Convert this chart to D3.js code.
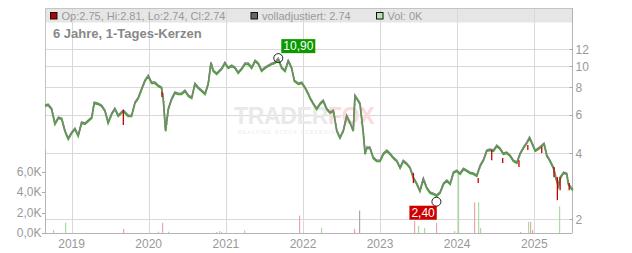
<!DOCTYPE html>
<html>
<head>
<meta charset="utf-8">
<script src="https://cdn.jsdelivr.net/npm/d3@7"></script>
<style>
body{margin:0;background:#fff;}
svg{display:block;font-family:"Liberation Sans",Arial,sans-serif;}
</style>
</head>
<body>
<div id="chart"></div>
<script>

const priceDates=[
    "2018-08-28","2018-09-12","2018-09-28","2018-10-14","2018-10-30","2018-11-15","2018-11-30","2018-12-16",
    "2019-01-01","2019-01-17","2019-02-01","2019-02-17","2019-03-05","2019-03-21","2019-04-06","2019-04-18",
    "2019-05-07","2019-05-23","2019-06-08","2019-06-23","2019-07-10","2019-07-25","2019-08-10","2019-09-03",
    "2019-09-26","2019-10-12","2019-10-28","2019-11-13","2019-11-29","2019-12-14","2019-12-30",
    "2020-01-15","2020-01-31","2020-02-15","2020-03-02","2020-03-10","2020-03-21","2020-04-03","2020-04-19",
    "2020-05-04","2020-05-20","2020-06-05","2020-06-21","2020-07-07","2020-07-23","2020-08-07","2020-08-23",
    "2020-09-08","2020-09-24","2020-10-09","2020-10-22","2020-11-02","2020-11-18","2020-12-12","2020-12-27",
    "2021-01-12","2021-01-28","2021-02-13","2021-02-28","2021-03-17","2021-04-01","2021-04-17","2021-05-03",
    "2021-05-19","2021-06-04","2021-06-19","2021-07-05","2021-07-21","2021-08-06","2021-08-22","2021-09-06",
    "2021-09-22","2021-10-08","2021-10-23","2021-11-08","2021-11-21","2021-12-10","2021-12-26",
    "2022-01-11","2022-01-26","2022-02-03","2022-02-19","2022-03-07","2022-03-23","2022-04-07","2022-04-23",
    "2022-05-09","2022-05-25","2022-06-10","2022-06-25","2022-07-11","2022-07-27","2022-08-12","2022-08-27",
    "2022-09-04","2022-09-20","2022-09-28","2022-10-14","2022-10-22","2022-10-30","2022-11-14","2022-11-30",
    "2022-12-16","2023-01-01","2023-01-17","2023-02-02","2023-02-17","2023-03-05","2023-03-21","2023-04-06",
    "2023-04-21","2023-05-07","2023-05-23","2023-06-08","2023-06-24","2023-07-09","2023-07-25","2023-08-10",
    "2023-08-26","2023-09-10","2023-09-26","2023-10-12","2023-10-28","2023-11-13","2023-11-29","2023-12-14",
    "2023-12-30","2024-01-15","2024-01-31","2024-02-16","2024-03-02","2024-03-18","2024-04-03","2024-04-19",
    "2024-05-05","2024-05-20","2024-06-05","2024-06-21","2024-07-07","2024-07-23","2024-08-07","2024-08-23",
    "2024-09-08","2024-09-24","2024-10-10","2024-10-25","2024-11-10","2024-11-26","2024-12-09","2024-12-20",
    "2025-01-05","2025-01-20","2025-02-05","2025-02-16","2025-03-01","2025-03-16","2025-04-01","2025-04-14",
    "2025-04-25","2025-05-03","2025-05-19","2025-06-03","2025-06-11","2025-06-27","2025-07-03"
];
const priceValues=[
    6.65,6.72,6.44,5.50,5.86,5.80,5.11,4.70,
    5.00,5.22,4.85,5.56,5.50,5.68,5.86,6.86,
    6.79,6.65,6.31,5.56,6.11,6.44,5.98,6.31,
    5.98,5.98,6.86,7.23,7.95,8.65,9.12,
    8.47,8.47,8.21,8.04,7.16,5.11,6.44,7.16,
    7.63,7.54,7.54,7.79,7.39,7.23,8.38,8.04,
    7.79,7.54,8.38,10.46,9.61,9.32,9.82,10.46,
    9.92,10.13,9.92,9.41,9.82,10.35,10.35,9.92,
    10.68,10.35,9.61,9.92,10.13,10.35,10.46,10.90,
    9.92,9.61,10.68,9.92,8.65,8.38,8.47,
    8.04,7.54,7.23,6.79,6.44,6.79,7.01,6.44,
    6.18,6.31,5.11,4.75,5.11,5.98,5.56,5.11,
    7.39,7.01,6.79,4.95,4.01,4.27,4.27,3.84,
    3.72,3.72,4.01,4.14,4.01,3.84,3.72,3.46,
    3.72,3.61,3.46,3.11,2.92,2.71,3.08,2.80,
    2.66,2.63,2.58,2.66,2.92,3.02,2.92,3.28,
    3.35,3.25,3.42,3.35,3.28,3.25,3.18,3.53,
    3.76,4.14,4.18,4.14,4.36,4.23,4.01,4.05,
    3.93,3.72,3.65,4.01,4.27,4.50,4.75,4.50,
    4.14,4.23,4.36,4.45,3.93,3.72,3.46,3.08,
    2.86,3.11,3.28,3.25,2.92,2.77,2.74
];

// red (falling) candles that stand out in the picture
const redDates=["2019-09-03","2020-03-04","2023-06-08","2024-04-10","2024-06-13","2024-08-04","2024-10-20",
    "2024-12-01","2025-02-05","2025-04-04","2025-04-20","2025-05-03","2025-06-15"];
const redHigh=[6.31,7.63,3.25,3.08,4.14,3.80,3.72,4.36,4.27,3.46,3.11,3.11,2.92];
const redLow=[5.39,7.23,2.92,2.92,3.72,3.61,3.46,4.14,4.01,3.11,2.44,2.71,2.71];

const volDates=["2018-10-06","2018-12-02","2019-09-03","2020-02-15","2020-03-05","2020-04-03","2020-11-13",
    "2020-11-29","2020-12-08","2021-03-29","2021-12-14","2022-03-29","2022-09-01","2022-09-22","2023-06-12",
    "2023-07-01","2023-07-27","2023-09-25","2023-12-19","2024-01-05","2024-03-23","2024-04-11","2024-04-20",
    "2024-10-27","2024-12-04","2024-12-13","2024-12-23","2025-04-29"];
const volValues=[300,1000,400,130,1000,130,100,200,100,250,1700,500,400,2200,1200,
    700,500,1000,200,5800,3000,3000,500,100,1100,1100,300,2600];
const volTypes=["g","g","r","g","r","g","g","g","g","g","r","g","r","n","r",
    "g","g","r","g","g","r","g","g","r","g","r","r","g"];

const priceTicks=[2,4,6,8,10,12];
const volTicks=[0,2000,4000,6000];
const yearTicks=[2019,2020,2021,2022,2023,2024,2025];

const highPoint={date: "2021-09-06", value: 10.90, label: "10,90"};
const lowPoint={date: "2023-09-25", value: 2.40, label: "2,40"};

const legendItems=[
    {x: 50, fill: "#b80000", text: "Op:2.75, Hi:2.81, Lo:2.74, Cl:2.74"},
    {x: 250.5, fill: "#666", text: "volladjustiert: 2.74"},
    {x: 376, fill: "#b8e2b0", text: "Vol: 0K"}
];


const width=632, height=253;
const plotLeft=45, plotRight=572.5, plotTop=8, plotBottom=233;
const parse=d3.timeParse("%Y-%m-%d");

const svg=d3.select("#chart").append("svg")
    .attr("width", width)
    .attr("height", height);

const x=d3.scaleTime()
    .domain([parse("2018-08-28"), parse("2025-07-03")])
    .range([plotLeft, 573]);

const y=d3.scaleLog()
    .domain([1.726, 15.95])
    .range([plotBottom, 22]);

const yVol=d3.scaleLinear()
    .domain([0, 8000])
    .range([plotBottom, plotBottom-82]);

const volColor={g: "#a9dba3", r: "#f0a4aa", n: "#aaaaaa"};


// header band
svg.append("rect")
    .attr("x", plotLeft).attr("y", plotTop)
    .attr("width", plotRight-plotLeft).attr("height", 14.5)
    .style("fill", "#e6e6e6");

// grid
svg.selectAll(".grid-h")
    .data(priceTicks)
    .enter().append("line")
    .attr("x1", plotLeft).attr("x2", plotRight)
    .attr("y1", d => Math.round(y(d))+0.5)
    .attr("y2", d => Math.round(y(d))+0.5)
    .style("stroke", "#d9d9d9");

svg.selectAll(".grid-v")
    .data(yearTicks)
    .enter().append("line")
    .attr("x1", d => Math.round(x(new Date(d, 0, 1)))+0.5)
    .attr("x2", d => Math.round(x(new Date(d, 0, 1)))+0.5)
    .attr("y1", plotTop).attr("y2", plotBottom)
    .style("stroke", "#d9d9d9");

// watermark
const wm=svg.append("text")
    .attr("x", 234).attr("y", 124)
    .style("font-size", "23px")
    .style("font-weight", "bold")
    .style("letter-spacing", "-0.3px");
wm.append("tspan").style("fill", "#e9e9e9").text("TRADER");
wm.append("tspan").style("fill", "#fbdadd").text("FOX");

svg.append("text")
    .attr("x", 238).attr("y", 134)
    .style("font-size", "5px")
    .style("letter-spacing", "1.2px")
    .style("fill", "#ececec")
    .text("REALTIME STOCK SCREENING");

// frame
svg.append("path")
    .attr("d", `M${plotLeft+0.5},${plotBottom}V${plotTop+0.5}H${plotRight}V${plotBottom}`)
    .style("fill", "none")
    .style("stroke", "#c4c4c4");
svg.append("line")
    .attr("x1", plotLeft).attr("x2", plotRight)
    .attr("y1", plotBottom+0.5).attr("y2", plotBottom+0.5)
    .style("stroke", "#b4b4b4");
svg.append("line")
    .attr("x1", plotRight).attr("x2", plotRight)
    .attr("y1", plotTop).attr("y2", plotBottom)
    .style("stroke", "#b4b4b4");
svg.append("line")
    .attr("x1", plotLeft+0.5).attr("x2", plotLeft+0.5)
    .attr("y1", 150).attr("y2", plotBottom)
    .style("stroke", "#b4b4b4");

// volume bars
const volData=volDates.map((d, i) => ({date: parse(d), value: volValues[i], type: volTypes[i]}));

svg.selectAll(".vol")
    .data(volData)
    .enter().append("rect")
    .attr("x", d => Math.round(x(d.date)))
    .attr("y", d => yVol(d.value))
    .attr("width", 1.2)
    .attr("height", d => plotBottom-yVol(d.value))
    .style("fill", d => volColor[d.type]);

// price line and candles
const priceData=priceDates.map((d, i) => ({date: parse(d), value: priceValues[i]}));

const line=d3.line()
    .x(d => x(d.date))
    .y(d => y(d.value));

svg.append("path")
    .datum(priceData)
    .attr("d", line)
    .attr("transform", "translate(0,1.3)")
    .style("fill", "none")
    .style("stroke", "#44a52f")
    .style("stroke-width", 1.7);

svg.append("path")
    .datum(priceData)
    .attr("d", line)
    .style("fill", "none")
    .style("stroke", "#808080")
    .style("stroke-width", 1.4);

svg.append("path")
    .datum(priceData)
    .attr("d", line)
    .attr("transform", "translate(0.6,0.9)")
    .style("fill", "none")
    .style("stroke", "#4fae36")
    .style("stroke-width", 0.7)
    .style("stroke-dasharray", "2 2");

const redData=redDates.map((d, i) => ({date: parse(d), hi: redHigh[i], lo: redLow[i]}));

svg.selectAll(".red-candle")
    .data(redData)
    .enter().append("line")
    .attr("x1", d => x(d.date)).attr("x2", d => x(d.date))
    .attr("y1", d => y(d.hi)).attr("y2", d => y(d.lo))
    .style("stroke", "#c80000")
    .style("stroke-width", 1.3);

// high / low markers
[highPoint, lowPoint].forEach(p => {
    svg.append("circle")
        .attr("cx", x(parse(p.date)))
        .attr("cy", y(p.value))
        .attr("r", 4.5)
        .style("fill", "none")
        .style("stroke", "#222")
        .style("stroke-width", 1);
});

function markerLabel (p, dx, dy, color) {
    const cx=x(parse(p.date)), cy=y(p.value);
    const g=svg.append("g").attr("transform", `translate(${cx+dx},${cy+dy})`);
    const t=g.append("text")
        .attr("x", 2).attr("y", 11)
        .style("font-size", "12px")
        .style("fill", "#fff")
        .text(p.label);
    const w=t.node().getComputedTextLength()+4;
    g.insert("rect", "text")
        .attr("width", w).attr("height", 14)
        .style("fill", color);
    return w;
}

markerLabel(highPoint, 3, -19, "#0a9a00");
markerLabel(lowPoint, -27, 4, "#cc0000");

// right price axis
svg.selectAll(".ptick")
    .data(priceTicks)
    .enter().append("line")
    .attr("x1", plotRight-3).attr("x2", plotRight)
    .attr("y1", d => Math.round(y(d))+0.5)
    .attr("y2", d => Math.round(y(d))+0.5)
    .style("stroke", "#aaa");

svg.selectAll(".plabel")
    .data(priceTicks)
    .enter().append("text")
    .attr("x", 575.5)
    .attr("y", d => y(d)+4.5)
    .style("font-size", "12px")
    .style("fill", "#999")
    .text(d => d);

// left volume axis
svg.selectAll(".vtick")
    .data(volTicks)
    .enter().append("line")
    .attr("x1", plotLeft-3).attr("x2", plotLeft)
    .attr("y1", d => Math.round(yVol(d))+0.5)
    .attr("y2", d => Math.round(yVol(d))+0.5)
    .style("stroke", "#aaa");

svg.selectAll(".vlabel")
    .data(volTicks)
    .enter().append("text")
    .attr("x", 41.5)
    .attr("y", d => yVol(d)+4)
    .attr("text-anchor", "end")
    .style("font-size", "12px")
    .style("fill", "#999")
    .text(d => (d/1000).toFixed(1).replace(".", ",")+"K");

// year labels
svg.selectAll(".ylabel")
    .data(yearTicks)
    .enter().append("text")
    .attr("x", d => x(new Date(d, 0, 1)))
    .attr("y", 247.5)
    .attr("text-anchor", "middle")
    .style("font-size", "12px")
    .style("fill", "#999")
    .text(d => d);

// legend + title
const legend=svg.selectAll(".legend")
    .data(legendItems)
    .enter().append("g")
    .attr("transform", d => `translate(${d.x},12)`);

legend.append("rect")
    .attr("x", 0.5).attr("y", 0.5)
    .attr("width", 6.5).attr("height", 6.5)
    .style("fill", d => d.fill)
    .style("stroke", "#111");

legend.append("text")
    .attr("x", 11.5).attr("y", 7.5)
    .style("font-size", "11px")
    .style("fill", "#999")
    .text(d => d.text);

svg.append("text")
    .attr("x", 53).attr("y", 38)
    .style("font-size", "13px")
    .style("font-weight", "bold")
    .style("fill", "#888")
    .text("6 Jahre, 1-Tages-Kerzen");

</script>
</body>
</html>
